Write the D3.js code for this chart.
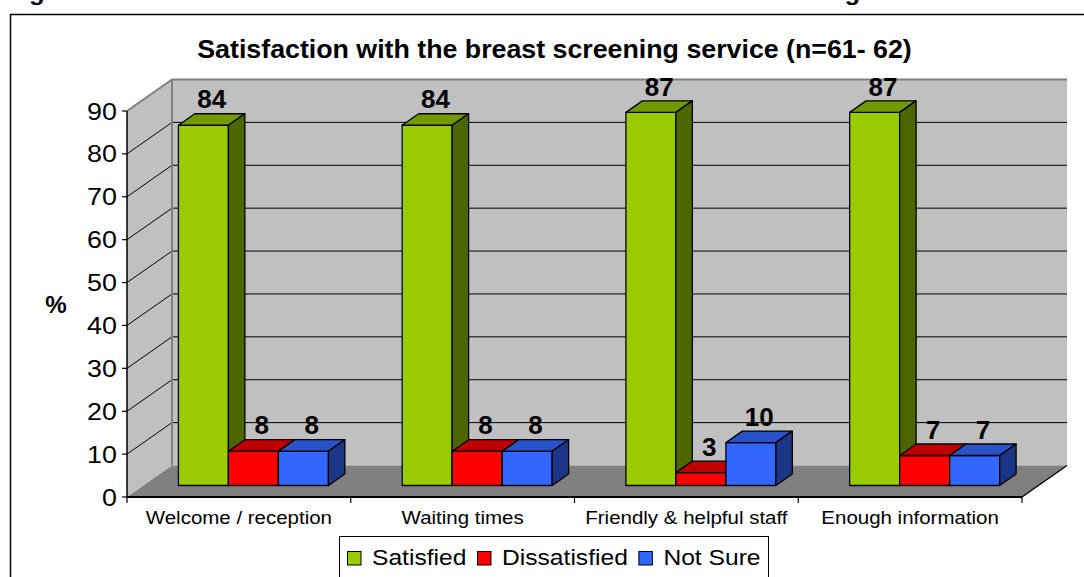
<!DOCTYPE html>
<html><head><meta charset="utf-8">
<script src="https://cdn.jsdelivr.net/npm/d3@7"></script>
<style>body{margin:0;background:#fff;} svg{display:block;font-family:Arial,"Liberation Sans",sans-serif;}</style>
</head><body><svg id="c" width="1084" height="577"></svg>
<script>
const categories = ["Welcome / reception","Waiting times","Friendly & helpful staff","Enough information"];
const seriesNames = ["Satisfied","Dissatisfied","Not Sure"];
const satisfied = [84,84,87,87];
const dissatisfied = [8,8,3,7];
const notSure = [8,8,10,7];
const yTicks = [0,10,20,30,40,50,60,70,80,90];
const title = "Satisfaction with the breast screening service (n=61- 62)";
const yLabel = "%";
const figureCaption = "Figure 10: Satisfaction with different elements of the breast screening";

const seriesValues = [satisfied, dissatisfied, notSure];
const cFront = ["#99cc00","#ff0000","#3366ff"];
const cTop = ["#739900","#bf0000","#2a52c9"];
const cSide = ["#4d6600","#800000","#1c3687"];

const SX = 1.12;
const svg = d3.select("#c");
const x0 = 127, x1 = 1022, yBase = 497, yTop = 111;
const DX = 45, DY = -31.5;
const fFront = 0.365, fDepth = 0.365;
const ddx = DX*fDepth, ddy = DY*fDepth;

const y = d3.scaleLinear().domain([0,90]).range([yBase,yTop]);
const x = d3.scaleBand().domain(categories).range([x0,x1]).padding(0);
const bw = x.bandwidth();
const xs = d3.scaleBand().domain(seriesNames).range([0.1564*bw, 0.8268*bw]).padding(0);

function txt(g, s, tx, ty, size, weight, anchor, sx){
  return g.append("text").attr("transform",`translate(${tx},${ty}) scale(${sx||SX},1)`)
    .attr("font-size",size).attr("font-weight",weight||"normal")
    .attr("text-anchor",anchor||"start").attr("fill","#000").text(s);
}
const line = d3.line();

// cut-off caption above frame
txt(svg, figureCaption, 6, 0, 23, "bold", "start");

// frame
svg.append("path").attr("d","M10.5,600 V14.5 H1100").attr("fill","none").attr("stroke","#000").attr("stroke-width",1.5);

// walls
const wall = svg.append("g");
wall.append("path").attr("d", line([[x0,yBase],[x0,yTop],[x0+DX,yTop+DY],[x0+DX,yBase+DY]])+"Z").attr("fill","#c0c0c0");
wall.append("path").attr("d", line([[x0+DX,yTop+DY],[x1+DX,yTop+DY],[x1+DX,yBase+DY],[x0+DX,yBase+DY]])+"Z").attr("fill","#c0c0c0");
yTicks.filter(t=>t>0 && t<90).forEach(t=>{
  wall.append("path").attr("d", line([[x0,y(t)],[x0+DX,y(t)+DY],[x1+DX,y(t)+DY]])).attr("fill","none").attr("stroke","#000").attr("stroke-width",1);
});
wall.append("path").attr("d", line([[x0,yTop],[x0+DX,yTop+DY],[x1+DX,yTop+DY]])).attr("fill","none").attr("stroke","#808080").attr("stroke-width",2);
wall.append("path").attr("d", line([[x0+DX,yTop+DY],[x0+DX,yBase+DY]])).attr("fill","none").attr("stroke","#808080").attr("stroke-width",2);
wall.append("path").attr("d", line([[x0,yBase],[x1,yBase],[x1+DX,yBase+DY],[x0+DX,yBase+DY]])+"Z").attr("fill","#808080");
wall.append("path").attr("d", line([[x1,yBase],[x1+DX,yBase+DY]])).attr("fill","none").attr("stroke","#000").attr("stroke-width",1.3);

// y axis
const ax = svg.append("g");
ax.append("path").attr("d", line([[x0,yBase],[x0,yTop]])).attr("stroke","#000").attr("stroke-width",1.5);
yTicks.forEach(t=>{
  ax.append("path").attr("d", line([[x0-5,y(t)],[x0,y(t)]])).attr("stroke","#000").attr("stroke-width",1.2);
  txt(ax, String(t), 117, y(t)+8.5, 24, "normal", "end");
});
// x axis
ax.append("path").attr("d", line([[x0,yBase],[x1,yBase]])).attr("stroke","#000").attr("stroke-width",2);
categories.concat([null]).forEach(c=>{
  const xx = c===null ? x1 : x(c);
  ax.append("path").attr("d", line([[xx,yBase],[xx,yBase+6]])).attr("stroke","#000").attr("stroke-width",1.2);
});
categories.forEach(c=>{ txt(ax, c, x(c)+bw/2, 523.5, 18.3, "normal", "middle"); });

// bars
const bars = svg.append("g").attr("stroke","#000").attr("stroke-width",1.3).attr("stroke-linejoin","round");
const labels = [];
categories.forEach((c,i)=>{
  seriesNames.forEach((s,j)=>{
    const v = seriesValues[j][i];
    const L = x(c) + fFront*DX + xs(s), R = L + xs.bandwidth();
    const T = y(v) + fFront*DY, B = y(0) + fFront*DY;
    bars.append("path").attr("d", line([[L,T],[R,T],[R,B],[L,B]])+"Z").attr("fill",cFront[j]);
    bars.append("path").attr("d", line([[L,T],[R,T],[R+ddx,T+ddy],[L+ddx,T+ddy]])+"Z").attr("fill",cTop[j]);
    bars.append("path").attr("d", line([[R,T],[R+ddx,T+ddy],[R+ddx,B+ddy],[R,B]])+"Z").attr("fill",cSide[j]);
    labels.push({v, x:(L+R)/2+ddx/2, y:T+ddy/2-11});
  });
});
const lg = svg.append("g");
labels.forEach(d=> txt(lg, String(d.v), d.x, d.y, 25, "bold", "middle", 1.04));

// title & y label
txt(svg, title, 554.5, 58.3, 25.5, "bold", "middle", 1.05);
txt(svg, yLabel, 56, 312.7, 23, "bold", "middle", 1.05);

// legend
const leg = svg.append("g");
leg.append("rect").attr("x",339.5).attr("y",536.5).attr("width",429).attr("height",50).attr("fill","#fff").attr("stroke","#000").attr("stroke-width",1);
let lx = 347;
seriesNames.forEach((s,j)=>{
  leg.append("rect").attr("x",lx+0.5).attr("y",551.5).attr("width",13.5).attr("height",13.5).attr("fill",cFront[j]).attr("stroke","#000").attr("stroke-width",1);
  const t = txt(leg, s, lx+25, 565, 22, "normal", "start");
  lx = lx + 25 + t.node().getComputedTextLength()*SX + 10.5;
});
</script></body></html>
